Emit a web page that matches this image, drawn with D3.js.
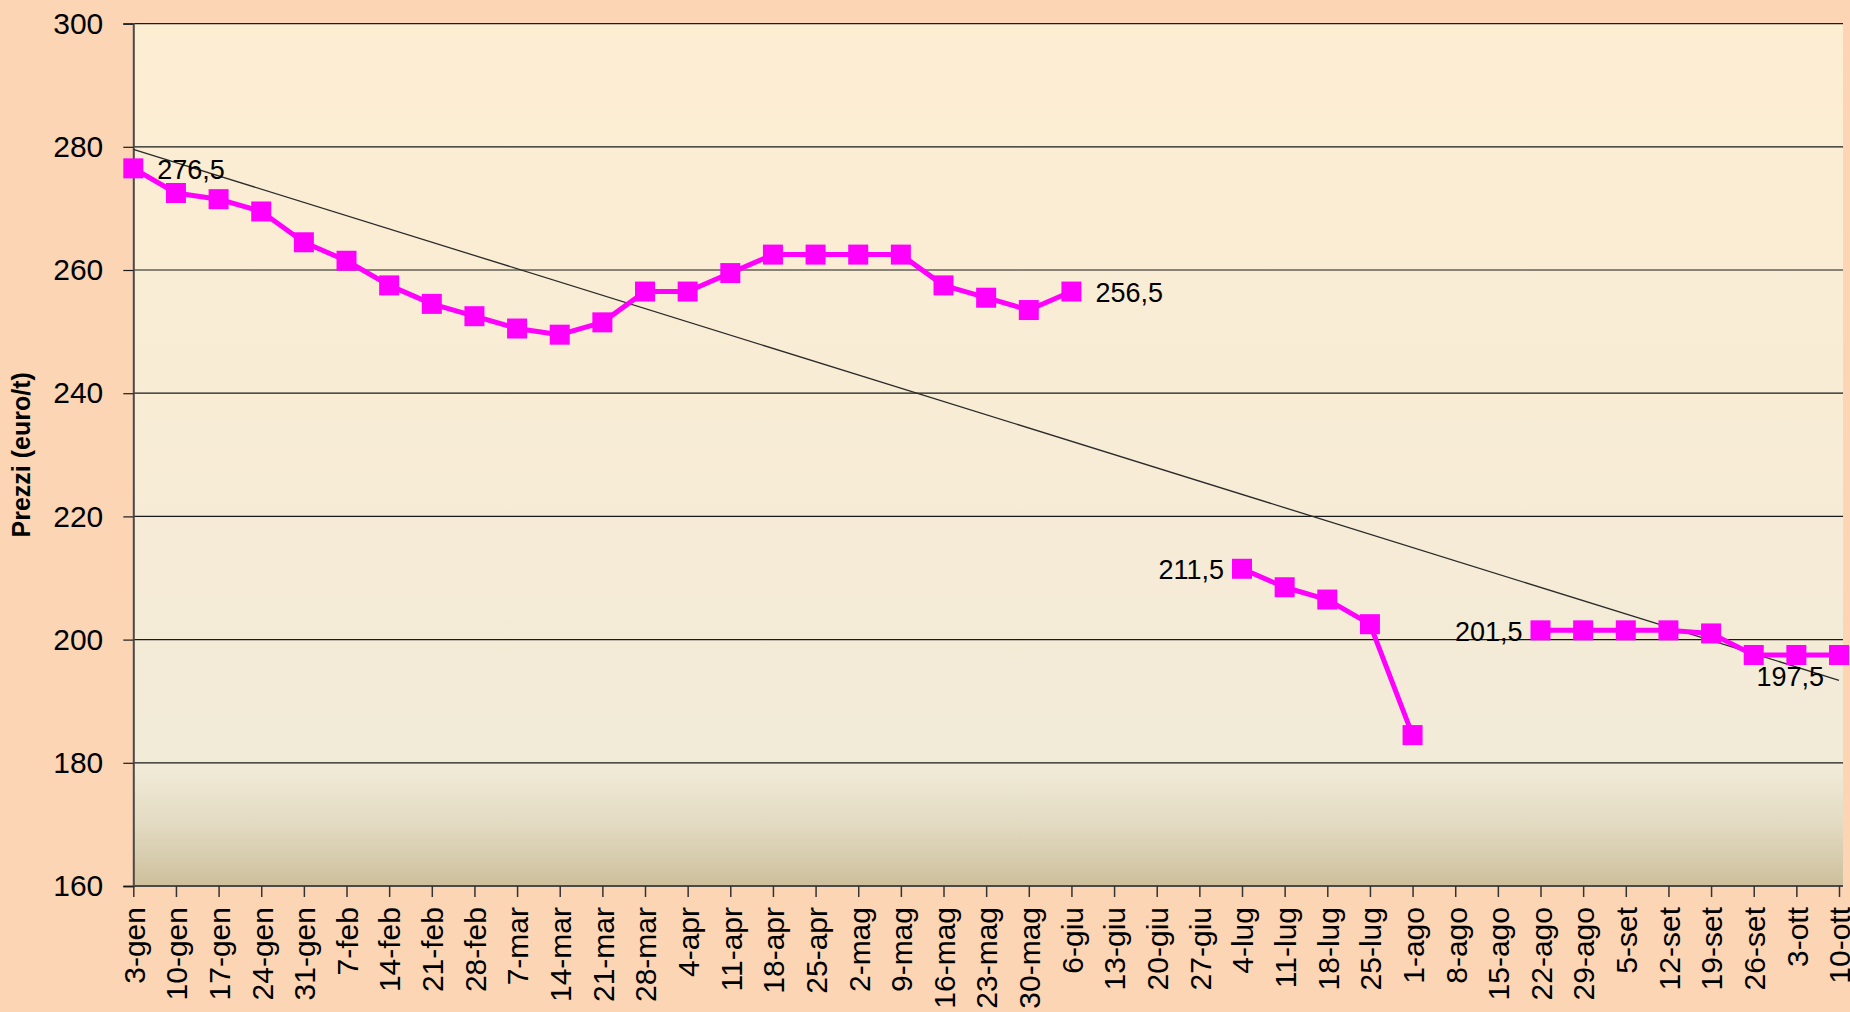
<!DOCTYPE html>
<html>
<head>
<meta charset="utf-8">
<script src="https://cdn.jsdelivr.net/npm/d3@7/dist/d3.min.js"></script>
<style>
  html, body { margin: 0; padding: 0; background: #FCD5B4; }
  svg { display: block; }
  text { font-family: "Liberation Sans", Arial, sans-serif; fill: #000; }
</style>
</head>
<body>
<svg id="chart" width="1850" height="1012"></svg>
<script>
// ---- data ----
const categories = [
  "3-gen","10-gen","17-gen","24-gen","31-gen",
  "7-feb","14-feb","21-feb","28-feb",
  "7-mar","14-mar","21-mar","28-mar",
  "4-apr","11-apr","18-apr","25-apr",
  "2-mag","9-mag","16-mag","23-mag","30-mag",
  "6-giu","13-giu","20-giu","27-giu",
  "4-lug","11-lug","18-lug","25-lug",
  "1-ago","8-ago","15-ago","22-ago","29-ago",
  "5-set","12-set","19-set","26-set",
  "3-ott","10-ott"
];
const prices = [
  276.5, 272.5, 271.5, 269.5, 264.5,
  261.5, 257.5, 254.5, 252.5,
  250.5, 249.5, 251.5, 256.5,
  256.5, 259.5, 262.5, 262.5,
  262.5, 262.5, 257.5, 255.5, 253.5,
  256.5, null, null, null,
  211.5, 208.5, 206.5, 202.5,
  184.5, null, null, 201.5, 201.5,
  201.5, 201.5, 201.0, 197.5,
  197.5, 197.5
];
const yTicks = [160, 180, 200, 220, 240, 260, 280, 300];
const trendCategories = ["3-gen", "10-ott"];
const trendValues = [279.6, 193.4];
const labelCategories = ["3-gen", "6-giu", "4-lug", "22-ago", "3-ott"];
const yTitle = "Prezzi (euro/t)";

// ---- layout ----
const svg = d3.select("#chart");
const pLeft = 133.3, pRight = 1839, plotRight = 1843, pTop = 23.6, pBottom = 886;

const x = d3.scalePoint().domain(categories).range([pLeft, pRight]);
const y = d3.scaleLinear().domain([160, 300]).range([pBottom, pTop]);

const itLocale = d3.formatLocale({decimal: ",", thousands: ".", grouping: [3], currency: ["", "€"]});
const fmt = itLocale.format(".1f");

// gradient background
const defs = svg.append("defs");
const grad = defs.append("linearGradient").attr("id", "bg").attr("x1", 0).attr("y1", 0).attr("x2", 0).attr("y2", 1);
[[0, "#FDEED2"], [0.45, "#F8ECD5"], [0.86, "#F2EBD8"], [0.93, "#E2DAC1"], [1, "#CDBF9B"]]
  .forEach(([o, c]) => grad.append("stop").attr("offset", o).attr("stop-color", c));

svg.append("rect")
  .attr("x", pLeft).attr("y", pTop)
  .attr("width", plotRight - pLeft).attr("height", pBottom - pTop)
  .attr("fill", "url(#bg)");

// gridlines
svg.append("g")
  .selectAll("line")
  .data(yTicks.filter(t => t > 160))
  .join("line")
  .attr("x1", pLeft).attr("x2", plotRight)
  .attr("y1", d => y(d)).attr("y2", d => y(d))
  .attr("stroke", "#1a1a1a").attr("stroke-width", 1.2);

// y axis
const yAxis = svg.append("g")
  .attr("transform", `translate(${pLeft},0)`)
  .call(d3.axisLeft(y).tickValues(yTicks).tickSize(10).tickPadding(20).tickFormat(d3.format("d")));
yAxis.select(".domain").attr("stroke", "#4a4a4a").attr("stroke-width", 2);
yAxis.selectAll(".tick line").attr("stroke", "#1a1a1a").attr("stroke-width", 1.2);
yAxis.selectAll(".tick text").attr("font-size", 30).attr("font-family", "Liberation Sans, Arial, sans-serif").attr("fill", "#000");

// x axis
const xAxis = svg.append("g")
  .attr("transform", `translate(0,${pBottom})`)
  .call(d3.axisBottom(x).tickSize(11).tickSizeOuter(0));
xAxis.select(".domain").attr("stroke", "#4a4a4a").attr("stroke-width", 2)
  .attr("d", `M${pLeft},0H${plotRight}`);
xAxis.selectAll(".tick line").attr("stroke", "#333").attr("stroke-width", 1.5);
xAxis.selectAll(".tick text")
  .attr("font-size", 30).attr("font-family", "Liberation Sans, Arial, sans-serif").attr("fill", "#000")
  .attr("text-anchor", "end")
  .attr("transform", "rotate(-90)")
  .attr("x", -21).attr("y", 0).attr("dy", "0.36em");

// y title
svg.append("text")
  .attr("transform", `translate(30,${(pTop + pBottom) / 2}) rotate(-90)`)
  .attr("text-anchor", "middle")
  .attr("font-size", 25).attr("font-weight", "bold")
  .text(yTitle);

// trend line
svg.append("line")
  .attr("x1", x(trendCategories[0])).attr("y1", y(trendValues[0]))
  .attr("x2", x(trendCategories[1])).attr("y2", y(trendValues[1]))
  .attr("stroke", "#2a2a2a").attr("stroke-width", 1.3);

// series line
const pts = categories.map((c, i) => ({c, v: prices[i]}));
svg.append("path")
  .datum(pts)
  .attr("fill", "none").attr("stroke", "#FF00FF").attr("stroke-width", 5)
  .attr("stroke-linejoin", "round")
  .attr("d", d3.line().defined(d => d.v != null).x(d => x(d.c)).y(d => y(d.v)));

// markers
const ms = 20;
svg.append("g").selectAll("rect")
  .data(pts.filter(d => d.v != null))
  .join("rect")
  .attr("x", d => x(d.c) - ms / 2).attr("y", d => y(d.v) - ms / 2)
  .attr("width", ms).attr("height", ms)
  .attr("fill", "#FF00FF");

// data labels
const placement = {"3-gen": "right", "6-giu": "right", "4-lug": "left", "22-ago": "left", "3-ott": "below"};
svg.append("g").selectAll("text")
  .data(pts.filter(d => labelCategories.includes(d.c)))
  .join("text")
  .attr("font-size", 27)
  .attr("x", d => {
    const p = placement[d.c];
    return p === "right" ? x(d.c) + 24 : p === "left" ? x(d.c) - 18 : x(d.c) - 6;
  })
  .attr("y", d => placement[d.c] === "below" ? y(d.v) + 22 : y(d.v) + 1)
  .attr("dy", "0.35em")
  .attr("text-anchor", d => placement[d.c] === "right" ? "start" : placement[d.c] === "left" ? "end" : "middle")
  .text(d => fmt(d.v));
</script>
</body>
</html>
